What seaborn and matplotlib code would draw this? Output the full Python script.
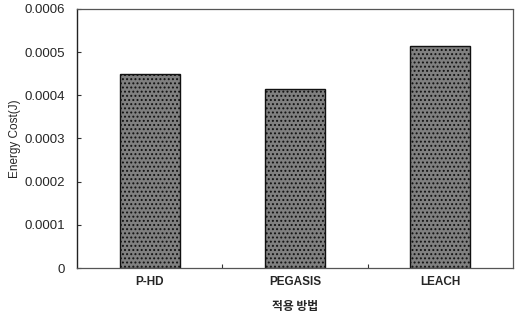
import matplotlib
matplotlib.use("Agg")
import matplotlib.pyplot as plt
import seaborn as sns
import pandas as pd

# data
methods = ["P-HD", "PEGASIS", "LEACH"]
energy_cost = [0.000450, 0.000415, 0.000515]
y_ticks = [0, 0.0001, 0.0002, 0.0003, 0.0004, 0.0005, 0.0006]
y_tick_labels = ["0", "0.0001", "0.0002", "0.0003", "0.0004", "0.0005", "0.0006"]

sns.set_style("white")
plt.rcParams["font.family"] = ["Liberation Sans", "Noto Sans CJK KR", "DejaVu Sans"]
plt.rcParams["hatch.color"] = "#333333"
plt.rcParams["hatch.linewidth"] = 0.9

df = pd.DataFrame({"method": methods, "cost": energy_cost})

fig = plt.figure(figsize=(5.18, 3.18), dpi=100)
ax = fig.add_axes([0.149, 0.157, 0.841, 0.815])

sns.barplot(data=df, x="method", y="cost", ax=ax, color="#808080",
            width=0.41, edgecolor="#111111", linewidth=1.0, saturation=1)
for p in ax.patches:
    p.set_hatch("....")

ax.set_ylim(0, 0.0006)
ax.set_xlim(-0.5, 2.5)
ax.set_yticks(y_ticks)
ax.set_yticklabels(y_tick_labels, fontsize=9.5)
ax.tick_params(axis="y", direction="in", length=3, width=0.8, color="#333333", pad=9, left=True)
ax.tick_params(axis="x", which="major", length=0, pad=6)
for lbl in ax.get_xticklabels():
    lbl.set_fontsize(8.5)
    lbl.set_fontweight("bold")
ax.set_xticks([0.5, 1.5], minor=True)
ax.tick_params(axis="x", which="minor", direction="in", length=3, width=0.8, color="#333333", bottom=True)

for side in ["top", "right", "bottom"]:
    ax.spines[side].set_visible(True)
    ax.spines[side].set_linestyle((0, (1, 1)))
    ax.spines[side].set_color("#555555")
    ax.spines[side].set_linewidth(0.9)
ax.spines["left"].set_color("#222222")
ax.spines["left"].set_linewidth(1.0)

ax.set_xlabel("적용 방법", fontsize=8.5, labelpad=8, family=["Noto Sans CJK KR", "DejaVu Sans"], fontweight="bold")
ax.set_ylabel("Energy Cost(J)", fontsize=8.5, labelpad=2)

fig.savefig("out.png", dpi=100)
